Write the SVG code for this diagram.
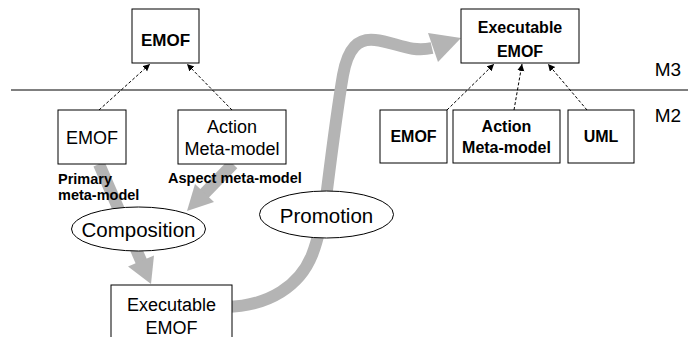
<svg xmlns="http://www.w3.org/2000/svg" width="688" height="337" viewBox="0 0 688 337">
<defs>
<style>
.box{fill:#fff;stroke:#000;stroke-width:1}
.ell{fill:#fff;stroke:#000;stroke-width:1}
.t{font-family:"Liberation Sans",Arial,sans-serif;fill:#000;text-anchor:middle}
.r{font-size:18px}
.b{font-size:16px;font-weight:bold}
.lab{font-family:"Liberation Sans",Arial,sans-serif;font-size:14.5px;font-weight:bold;fill:#000}
.dash{fill:none;stroke:#000;stroke-width:1;stroke-dasharray:3,2;marker-end:url(#ah)}
.flow{fill:none;stroke:#b4b4b4;stroke-width:12}
.head{fill:#b4b4b4}
</style>
<marker id="ah" markerWidth="8" markerHeight="8" refX="7" refY="3.5" orient="auto" markerUnits="userSpaceOnUse">
<path d="M0,0 L7,3.5 L0,7 z" fill="#000"/>
</marker>
</defs>
<rect width="688" height="337" fill="#fff"/>
<line x1="11" y1="90" x2="688" y2="90" stroke="#000" stroke-width="1"/>
<text class="t" x="668" y="76" style="font-size:19px">M3</text>
<text class="t" x="668" y="122" style="font-size:19px">M2</text>
<g id="connectors">
<path class="flow" d="M99,164 L142,263"/>
<polygon class="head" points="151,284 128,266.5 154,255.5"/>
<path class="flow" d="M233,164 L200,198"/>
<polygon class="head" points="187,211 195,184 214,202"/>
<path class="flow" d="M226,307 C270,306 300,285 312,255 C320,235 324,210 327,190 C332,150 337,110 343,75 C348,48 358,38 375,40 C395,42 410,53 432,48"/>
<polygon class="head" points="461,38 428,33 438,62"/>
<path class="dash" d="M99,110 L150,64"/>
<path class="dash" d="M232,110 L187,64"/>
<path class="dash" d="M447,110 L494,64"/>
<path class="dash" d="M514,110 L522,64"/>
<path class="dash" d="M587,110 L548,64"/>
</g>
<g id="emof-m3">
<rect class="box" x="132" y="9" width="67" height="54"/>
<text class="t b" x="165.5" y="46" style="font-size:17px">EMOF</text>
</g>
<g id="emof-primary">
<rect class="box" x="58" y="110" width="68" height="54"/>
<text class="t r" x="92" y="144">EMOF</text>
</g>
<g id="action-aspect">
<rect class="box" x="178" y="110" width="108" height="54"/>
<text class="t r" x="232" y="133">Action</text>
<text class="t r" x="232" y="155">Meta-model</text>
</g>
<text class="lab" x="58" y="184">Primary</text>
<text class="lab" x="58" y="200">meta-model</text>
<text class="lab" x="168" y="183">Aspect meta-model</text>
<g id="composition">
<ellipse class="ell" cx="138.5" cy="229" rx="67" ry="22"/>
<text class="t" x="138.5" y="236.5" style="font-size:20.5px">Composition</text>
</g>
<g id="promotion">
<ellipse class="ell" cx="326.5" cy="214.5" rx="67" ry="23.5"/>
<text class="t" x="326.5" y="223" style="font-size:20.5px">Promotion</text>
</g>
<g id="exec-emof-m2">
<rect class="box" x="111" y="285" width="121" height="60"/>
<text class="t r" x="171.5" y="311">Executable</text>
<text class="t r" x="171.5" y="334">EMOF</text>
</g>
<g id="exec-emof-m3">
<rect class="box" x="461" y="9" width="118" height="54"/>
<text class="t b" x="520" y="33">Executable</text>
<text class="t b" x="520" y="57">EMOF</text>
</g>
<g id="emof-r">
<rect class="box" x="380" y="110" width="67" height="53"/>
<text class="t b" x="413.5" y="142">EMOF</text>
</g>
<g id="action-r">
<rect class="box" x="453" y="110" width="107" height="53"/>
<text class="t b" x="506.5" y="132">Action</text>
<text class="t b" x="506.5" y="153">Meta-model</text>
</g>
<g id="uml-r">
<rect class="box" x="568" y="110" width="66" height="53"/>
<text class="t b" x="601" y="142">UML</text>
</g>
</svg>
